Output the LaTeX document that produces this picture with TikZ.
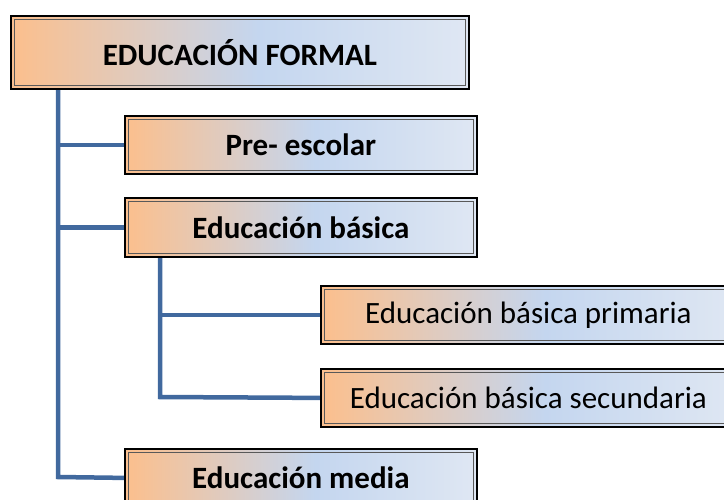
\documentclass[tikz,border=0pt]{standalone}
\usepackage{fontspec}
\setmainfont{Carlito}
\usetikzlibrary{backgrounds}
\definecolor{lnblue}{HTML}{41699E}
\definecolor{gorange}{HTML}{FAC090}
\definecolor{gblue}{HTML}{C4D6EF}
\definecolor{gpale}{HTML}{DFE7F3}
\pgfdeclarehorizontalshading{edushade}{100bp}{color(0bp)=(gorange); color(26bp)=(gorange); color(52bp)=(gblue); color(75bp)=(gpale); color(100bp)=(gpale)}
\tikzset{
  box/.style={rectangle, draw=black, line width=1.8pt, inner sep=0pt,
    shading=edushade, anchor=north west, align=center,
    font=\fontsize{31}{36}\selectfont,
    path picture={\draw[black!65, line width=0.7pt]
        ([shift={(3.2pt,-3.2pt)}]path picture bounding box.north west) rectangle
        ([shift={(-3.2pt,3.2pt)}]path picture bounding box.south east);}},
  boldbox/.style={box, font=\bfseries\fontsize{31}{36}\selectfont},
  conn/.style={draw=lnblue, line width=4.5pt, line cap=butt, line join=miter}
}
\begin{document}
\begin{tikzpicture}[x=1pt,y=-1pt]
\useasboundingbox (0,0) rectangle (724,499);
\clip (0,0) rectangle (724,499);
\node[boldbox, minimum width=458pt, minimum height=73pt] (formal) at (10,15) {EDUCACIÓN FORMAL};
\node[boldbox, minimum width=352pt, minimum height=58pt] (pre) at (124,115) {Pre- escolar};
\node[boldbox, minimum width=352pt, minimum height=59pt] (basica) at (124,197) {Educación básica};
\node[box, minimum width=415pt, minimum height=58pt] (prim) at (320,285) {Educación básica primaria};
\node[box, minimum width=415pt, minimum height=58pt] (sec) at (320,368) {Educación básica secundaria};
\node[boldbox, minimum width=352pt, minimum height=58pt] (media) at (124,448) {Educación media};
\coordinate (v1) at (58,477);
\coordinate (v2) at (160,397);
\begin{scope}[on background layer]
\draw[conn] (formal.south -| v1) -- (v1) -- (media.west);
\draw[conn] (pre.west -| v1) -- (pre.west);
\draw[conn] (basica.west -| v1) -- (basica.west);
\draw[conn] (basica.south -| v2) -- (v2) -- (sec.west);
\draw[conn] (prim.west -| v2) -- (prim.west);
\end{scope}
\end{tikzpicture}
\end{document}
